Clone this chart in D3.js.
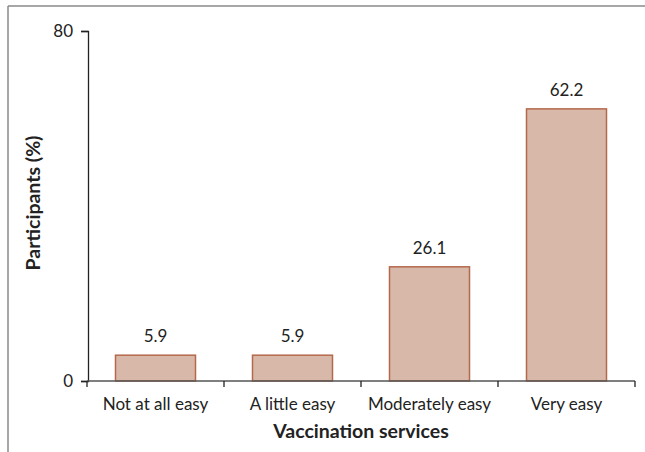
<!DOCTYPE html>
<html><head><meta charset="utf-8">
<script src="https://cdn.jsdelivr.net/npm/d3@7"></script>
<style>body{margin:0;background:#fff;} svg{display:block;}</style>
</head><body>
<script>
const categories = ["Not at all easy", "A little easy", "Moderately easy", "Very easy"];
const values = [5.9, 5.9, 26.1, 62.2];
const valueLabels = ["5.9", "5.9", "26.1", "62.2"];
const yTicks = [0, 80];
const xTitle = "Vaccination services";
const yTitle = "Participants (%)";

const W = 645, H = 452;
const font = "Lato, 'Open Sans', sans-serif";
const svg = d3.select("body").append("svg").attr("width", W).attr("height", H);

// frame (top and left only, as cropped)
svg.append("line").attr("x1", 8).attr("x2", W).attr("y1", 6).attr("y2", 6).attr("stroke", "#8a8a8a").attr("stroke-width", 1.5);
svg.append("line").attr("x1", 8).attr("x2", 8).attr("y1", 6).attr("y2", H).attr("stroke", "#8a8a8a").attr("stroke-width", 1.5);

const x = d3.scaleBand().domain(categories).range([87, 635]).paddingInner(0.416).paddingOuter(0.208);
const y = d3.scaleLinear().domain([0, 80]).range([381, 31]);

// bars
svg.selectAll("rect.bar").data(values).join("rect")
  .attr("x", (d, i) => x(categories[i]))
  .attr("width", x.bandwidth())
  .attr("y", d => y(d))
  .attr("height", d => y(0) - y(d))
  .attr("fill", "#d8b9a9").attr("stroke", "#b5694c").attr("stroke-width", 1.5);

// value labels
svg.selectAll("text.val").data(values).join("text")
  .attr("x", (d, i) => x(categories[i]) + x.bandwidth() / 2)
  .attr("y", d => y(d) - 13)
  .attr("text-anchor", "middle").attr("font-family", font).attr("font-size", 17).attr("fill", "#222")
  .text((d, i) => valueLabels[i]);

// y axis
const yAxis = svg.append("g").attr("transform", "translate(88,0)")
  .call(d3.axisLeft(y).tickValues(yTicks).tickSize(7).tickPadding(8));
yAxis.select(".domain").attr("stroke", "#222").attr("stroke-width", 1.3);
yAxis.selectAll(".tick line").attr("stroke", "#222").attr("stroke-width", 1.3);
yAxis.selectAll(".tick text").attr("font-family", font).attr("font-size", 17).attr("fill", "#222").attr("dy", "0.35em");

// x axis baseline and boundary ticks
const bounds = d3.range(categories.length + 1).map(i => 87 + i * x.step());
svg.append("line").attr("x1", 87).attr("x2", 635).attr("y1", y(0)).attr("y2", y(0)).attr("stroke", "#555").attr("stroke-width", 1.5);
svg.selectAll("line.btick").data(bounds).join("line")
  .attr("x1", d => d).attr("x2", d => d).attr("y1", y(0)).attr("y2", y(0) + 6)
  .attr("stroke", "#222").attr("stroke-width", 1.3);

// category labels
svg.selectAll("text.cat").data(categories).join("text")
  .attr("x", d => x(d) + x.bandwidth() / 2)
  .attr("y", 410)
  .attr("text-anchor", "middle").attr("font-family", font).attr("font-size", 17).attr("fill", "#222")
  .text(d => d);

// axis titles
svg.append("text").attr("x", 361).attr("y", 438).attr("text-anchor", "middle")
  .attr("font-family", font).attr("font-size", 19.5).attr("font-weight", "bold").attr("fill", "#222").text(xTitle);
svg.append("text").attr("transform", "translate(40,203) rotate(-90)").attr("text-anchor", "middle")
  .attr("font-family", font).attr("font-size", 19.5).attr("font-weight", "bold").attr("fill", "#222").text(yTitle);
</script>
</body></html>
